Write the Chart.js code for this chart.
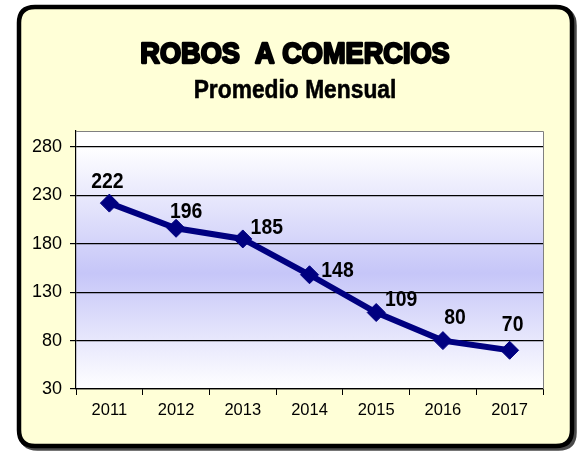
<!DOCTYPE html>
<html>
<head>
<meta charset="utf-8">
<script src="https://cdn.jsdelivr.net/npm/chart.js@4.4.1/dist/chart.umd.min.js"></script>
<style>
  html, body { margin: 0; padding: 0; background: #ffffff; }
  #wrap { width: 578px; height: 455px; position: relative; }
</style>
</head>
<body>
<div id="wrap"><canvas id="c" width="578" height="455"></canvas></div>
<script>
// ---- data ----
const titleText = "ROBOS  A COMERCIOS";
const subtitleText = "Promedio Mensual";
const years = ["2011", "2012", "2013", "2014", "2015", "2016", "2017"];
const robos = [222, 196, 185, 148, 109, 80, 70];
const yTickValues = [30, 80, 130, 180, 230, 280];

// label placement relative to each point (dx of centre, dy of baseline)
const labelDx = [-2, 10, 24, 28, 25, 12, 3];
const labelDy = [-15, -10, -5, 2, -7, -17, -19];

const FONT = "'Liberation Sans', Arial, sans-serif";

const framePlugin = {
  id: 'frame',
  beforeDraw(chart) {
    const ctx = chart.ctx;
    ctx.save();
    ctx.fillStyle = '#ffffff';
    ctx.fillRect(0, 0, chart.width, chart.height);
    const rr = (x, y, w, h, r) => {
      ctx.beginPath();
      ctx.moveTo(x + r, y);
      ctx.lineTo(x + w - r, y);
      ctx.quadraticCurveTo(x + w, y, x + w, y + r);
      ctx.lineTo(x + w, y + h - r);
      ctx.quadraticCurveTo(x + w, y + h, x + w - r, y + h);
      ctx.lineTo(x + r, y + h);
      ctx.quadraticCurveTo(x, y + h, x, y + h - r);
      ctx.lineTo(x, y + r);
      ctx.quadraticCurveTo(x, y, x + r, y);
      ctx.closePath();
    };
    // shadow
    rr(21.5, 9.5, 553, 439, 16);
    ctx.lineWidth = 4.5;
    ctx.strokeStyle = '#4a4a4a';
    ctx.stroke();
    // main box
    rr(19, 7, 553, 439, 16);
    ctx.fillStyle = '#FFFFD7';
    ctx.fill();
    ctx.lineWidth = 4.5;
    ctx.strokeStyle = '#000000';
    ctx.stroke();

    // plot area background gradient
    const a = chart.chartArea;
    const g = ctx.createLinearGradient(0, a.top, 0, a.bottom);
    g.addColorStop(0, '#FFFFFF');
    g.addColorStop(0.06, '#FFFFFF');
    g.addColorStop(0.55, '#C6C6F8');
    g.addColorStop(1, '#FFFFFF');
    ctx.fillStyle = g;
    ctx.fillRect(a.left, a.top, a.right - a.left, a.bottom - a.top);

    // titles
    ctx.fillStyle = '#000000';
    ctx.strokeStyle = '#000000';
    ctx.textAlign = 'center';
    ctx.textBaseline = 'alphabetic';
    ctx.lineJoin = 'round';
    ctx.save();
    ctx.translate(295, 63);
    ctx.scale(0.97, 1.05);
    ctx.font = 'bold 28px ' + FONT;
    ctx.lineWidth = 2.2;
    ctx.strokeText(titleText, 0, 0);
    ctx.fillText(titleText, 0, 0);
    ctx.restore();
    ctx.save();
    ctx.translate(295, 98);
    ctx.scale(0.95, 1.05);
    ctx.font = 'bold 24px ' + FONT;
    ctx.lineWidth = 0.5;
    ctx.strokeText(subtitleText, 0, 0);
    ctx.fillText(subtitleText, 0, 0);
    ctx.restore();
    ctx.restore();
  },
  afterDraw(chart) {
    const ctx = chart.ctx;
    const a = chart.chartArea;
    ctx.save();
    ctx.strokeStyle = '#808080';
    ctx.lineWidth = 1;
    ctx.beginPath();
    ctx.moveTo(a.left, a.top + 0.5);
    ctx.lineTo(a.right + 0.5, a.top + 0.5);
    ctx.lineTo(a.right + 0.5, a.bottom);
    ctx.stroke();
    ctx.restore();
  },
  afterDatasetsDraw(chart) {
    const ctx = chart.ctx;
    const meta = chart.getDatasetMeta(0);
    ctx.save();
    ctx.fillStyle = '#000000';
    ctx.font = 'bold 20px ' + FONT;
    ctx.textAlign = 'center';
    ctx.textBaseline = 'alphabetic';
    meta.data.forEach((pt, i) => {
      ctx.save();
      ctx.translate(pt.x + labelDx[i], pt.y + labelDy[i]);
      ctx.scale(0.97, 1.1);
      ctx.fillText(String(robos[i]), 0, 0);
      ctx.restore();
    });
    ctx.restore();
  }
};

new Chart(document.getElementById('c'), {
  type: 'line',
  data: {
    labels: years,
    datasets: [{
      data: robos,
      borderColor: '#000080',
      backgroundColor: '#000080',
      borderWidth: 6,
      tension: 0,
      pointStyle: 'rectRot',
      pointRadius: 9,
      pointHoverRadius: 9,
      pointBorderWidth: 1,
      pointBorderColor: '#000080',
      pointBackgroundColor: '#000080',
      fill: false
    }]
  },
  options: {
    responsive: false,
    animation: false,
    events: [],
    layout: { padding: { left: 0, right: 35, top: 131, bottom: 0 } },
    plugins: {
      legend: { display: false },
      title: { display: false },
      tooltip: { enabled: false }
    },
    scales: {
      x: {
        offset: true,
        grid: {
          offset: true,
          drawOnChartArea: false,
          drawTicks: true,
          tickLength: 6,
          color: '#000000',
          lineWidth: 1
        },
        border: { display: true, color: '#000000', width: 1.2 },
        ticks: {
          color: '#000000',
          font: { family: FONT, size: 16.5 },
          padding: 6,
          maxRotation: 0
        },
        afterFit(scale) { scale.height = 66; }
      },
      y: {
        min: 30,
        max: 296.5,
        afterBuildTicks(scale) {
          scale.ticks = yTickValues.map(v => ({ value: v }));
        },
        grid: {
          color: '#000000',
          lineWidth: 1.2,
          drawTicks: true,
          tickLength: 6
        },
        border: { display: true, color: '#000000', width: 1.2 },
        ticks: {
          color: '#000000',
          font: { family: FONT, size: 18 },
          padding: 8
        },
        afterFit(scale) { scale.width = 76; }
      }
    }
  },
  plugins: [framePlugin]
});
</script>
</body>
</html>
